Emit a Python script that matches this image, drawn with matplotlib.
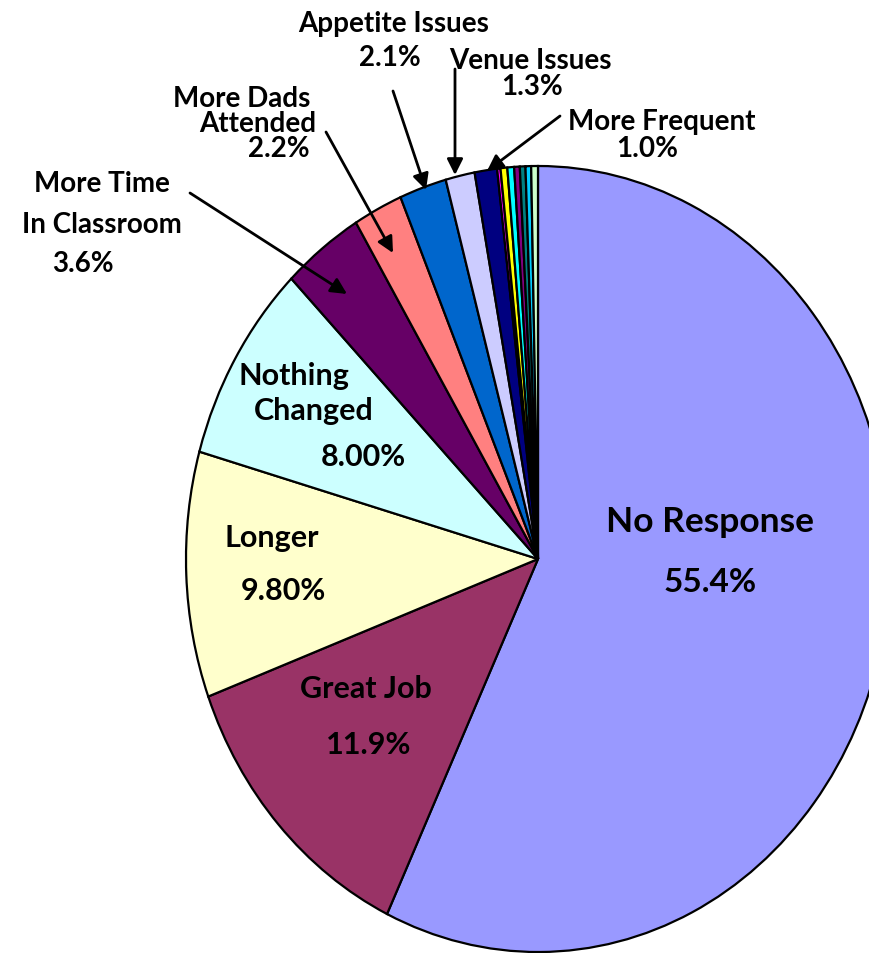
import matplotlib
matplotlib.use("Agg")
import matplotlib.pyplot as plt

W, H = 869, 954

categories = ["No Response", "Great Job", "Longer", "Nothing Changed",
              "More Time In Classroom", "More Dads Attended", "Appetite Issues",
              "Venue Issues", "More Frequent",
              "Other 1", "Other 2", "Other 3", "Other 4", "Other 5", "Other 6", "Other 7"]
values = [55.4, 11.9, 9.8, 8.0, 3.6, 2.2, 2.1, 1.3, 1.0,
          0.15, 0.3, 0.3, 0.25, 0.25, 0.25, 0.3]
colors = ["#9999FF", "#993366", "#FFFFCC", "#CCFFFF", "#660066", "#FF8080",
          "#0066CC", "#CCCCFF", "#000080",
          "#FF00FF", "#FFFF00", "#00FFFF", "#800080", "#008080", "#00CCFF", "#CCFFCC"]

# label lines: (text, center x px, baseline y px, size)
inner_labels = [
    ("No Response", 710, 532, 25.5), ("55.4%", 710, 592, 24),
    ("Great Job", 366, 698, 22), ("11.9%", 369, 754, 22),
    ("Longer", 272, 547, 22), ("9.80%", 283, 600, 22),
    ("Nothing", 294, 385, 22), ("Changed", 314, 420, 22), ("8.00%", 363, 466, 22),
]
outer_labels = [
    ("Appetite Issues", 394, 32), ("2.1%", 390, 66),
    ("Venue Issues", 530, 69), ("1.3%", 532, 95),
    ("More Dads", 242, 107), ("Attended", 258, 132), ("2.2%", 279, 157),
    ("More Frequent", 662, 130), ("1.0%", 647, 157),
    ("More Time", 102, 192), ("In Classroom", 102, 233), ("3.6%", 83, 272),
]
arrows = [  # (start, tip) in image px
    ((190, 194), (347, 295)),
    ((326, 133), (393, 254)),
    ((393, 92), (426, 191)),
    ((455, 70), (455, 176)),
    ((560, 117), (487, 172)),
]

fig = plt.figure(figsize=(W / 100, H / 100), dpi=100)
cx, cy, rx, ry = 538, 560, 352, 393
ax = fig.add_axes([(cx - rx) / W, (H - cy - ry) / H, 2 * rx / W, 2 * ry / H])
ax.pie(values, colors=colors, startangle=90, counterclock=False,
       wedgeprops=dict(edgecolor="black", linewidth=1.6))
ax.set_aspect("auto")
ax.set_xlim(-1, 1)
ax.set_ylim(-1, 1)
ax.axis("off")

for s, x, y, fs in inner_labels:
    fig.text(x / W, 1 - y / H, s, ha="center", va="baseline", fontsize=fs,
             fontweight="bold", family="Lato", color="black")
for s, x, y in outer_labels:
    fig.text(x / W, 1 - y / H, s, ha="center", va="baseline", fontsize=20,
             fontweight="bold", family="Lato", color="black")

for (x0, y0), (x1, y1) in arrows:
    fig.add_artist(matplotlib.patches.FancyArrowPatch(
        (x0, H - y0), (x1, H - y1), transform=None,
        arrowstyle="-|>", mutation_scale=24, lw=2, color="black",
        shrinkA=0, shrinkB=0))

fig.savefig("out.png", dpi=100)
